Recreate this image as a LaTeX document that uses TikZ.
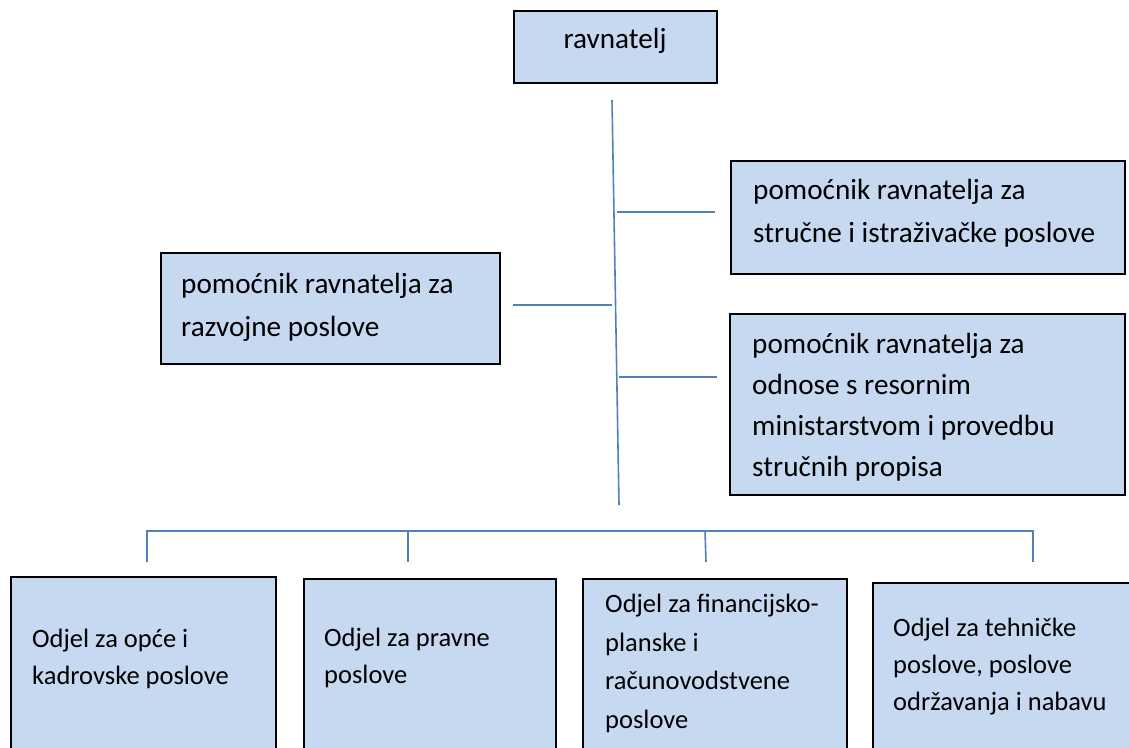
\documentclass[tikz,border=0pt]{standalone}
\usepackage{fontspec}
\setmainfont{Carlito}
\usepackage{tikz}

\definecolor{boxfill}{RGB}{198,217,241}
\definecolor{linkblue}{RGB}{79,129,189}

\tikzset{
  box/.style={draw=black, fill=boxfill, line width=1.5pt},
  link/.style={draw=linkblue, line width=1.6pt},
  txt/.style={inner sep=0pt, anchor=base west, align=left, font=\fontsize{29.2}{43}\selectfont},
  txtlow/.style={inner sep=0pt, anchor=base west, align=left, font=\fontsize{26.5}{37}\selectfont}
}

\begin{document}
\begin{tikzpicture}[x=1pt, y=-1pt]
			%%%%% START %%%%%
			\clip (0, 0) rectangle (1129, 747);
			
			% top
			\draw[box] (514, 11) rectangle (717, 83);
			\node[txt, anchor=base] (ravnatelj) at (615, 48) {ravnatelj};
			
			% assistants (anchor = baseline of last line)
			\draw[box] (731, 161) rectangle (1125, 274);
			\node[txt] (strucni) at (753, 242) {pomoćnik ravnatelja za\\stručne i istraživačke poslove};
			
			\draw[box] (161, 253) rectangle (500, 364);
			\node[txt] (razvoj) at (181, 336) {pomoćnik ravnatelja za\\razvojne poslove};
			
			\draw[box] (730, 314) rectangle (1125, 495);
			\node[txt, font=\fontsize{29.2}{41}\selectfont] (resor) at (752, 476) {pomoćnik ravnatelja za\\odnose s resornim\\ministarstvom i provedbu\\stručnih propisa};
			
			% departments
			\draw[box] (11, 577) rectangle (276, 760);
			\node[txtlow] (opci) at (32, 684) {Odjel za opće i\\kadrovske poslove};
			
			\draw[box] (304, 579) rectangle (556, 760);
			\node[txtlow] (pravni) at (324, 683) {Odjel za pravne\\poslove};
			
			\draw[box] (583, 579) rectangle (847, 760);
			\node[txtlow, font=\fontsize{26.5}{38.5}\selectfont] (financ) at (605, 728) {Odjel za financijsko-\\planske i\\računovodstvene\\poslove};
			
			\draw[box] (873, 583) rectangle (1135, 760);
			\node[txtlow] (tehn) at (893, 710) {Odjel za tehničke\\poslove, poslove\\održavanja i nabavu};
			
			% links
			\coordinate (trunktop) at (612, 100);
			\coordinate (trunkbot) at (619, 505);
			\draw[link] (trunktop) -- (trunkbot);
			
			\coordinate (s1) at (617, 212);
			\coordinate (s2) at (715, 212);
			\draw[link] (s1) -- (s2);
			
			\coordinate (r1) at (513, 305);
			\coordinate (r2) at (612, 305);
			\draw[link] (r1) -- (r2);
			
			\coordinate (m1) at (619, 377);
			\coordinate (m2) at (717, 377);
			\draw[link] (m1) -- (m2);
			
			\coordinate (b1) at (147, 531);
			\coordinate (b4) at (1033, 531);
			\coordinate (d1) at (147, 562);
			\coordinate (d4) at (1033, 562);
			\draw[link] (d1) -- (b1) -- (b4) -- (d4);
			
			\coordinate (b2) at (408, 531);
			\coordinate (d2) at (408, 562);
			\draw[link] (b2) -- (d2);
			\coordinate (b3) at (705, 531);
			\coordinate (d3) at (706, 562);
			\draw[link] (b3) -- (d3);
			
			%%%%% END %%%%%
\end{tikzpicture}
\end{document}
